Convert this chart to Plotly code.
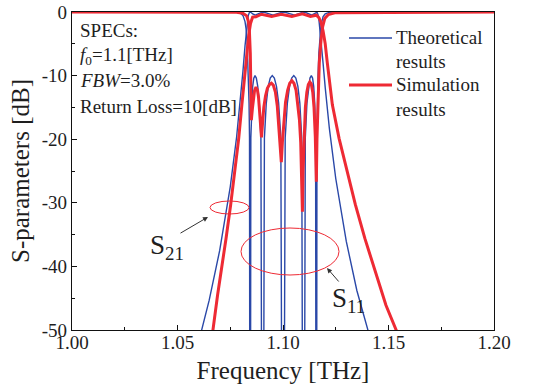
import plotly.graph_objects as go

# ---------------- data ----------------
# Theoretical results (blue)
theo_f = [1.000, 1.055, 1.060, 1.065, 1.070, 1.075, 1.078, 1.080, 1.081, 1.082, 1.0825, 1.083, 1.0835,
          1.08362, 1.08365, 1.08375, 1.08391, 1.08413, 1.08442, 1.08476, 1.08517, 1.08563, 1.08616,
          1.08673, 1.08736, 1.08804, 1.08876, 1.08953, 1.09034, 1.09119, 1.09208, 1.09300, 1.09394,
          1.09491, 1.09590, 1.09691, 1.09793, 1.09897, 1.10000, 1.10104, 1.10207, 1.10310, 1.10411,
          1.10511, 1.10609, 1.10705, 1.10798, 1.10888, 1.10974, 1.11057, 1.11135, 1.11209, 1.11278,
          1.11343, 1.11402, 1.11455, 1.11503, 1.11545, 1.11580, 1.11610, 1.11632, 1.11649, 1.11659,
          1.11662, 1.117, 1.118, 1.119, 1.120, 1.122, 1.125, 1.130, 1.135, 1.140, 1.145, 1.200]
theo_s21 = [-95.0, -57.6, -51.9, -45.35, -37.49, -27.49, -19.69, -13.17, -9.37, -5.32, -3.38, -1.755, -0.64,
            -0.458, -0.416, -0.305, -0.164, -0.046, 0.0, -0.046, -0.164, -0.305, -0.416,
            -0.458, -0.416, -0.305, -0.164, -0.046, 0.0, -0.046, -0.164, -0.305, -0.416,
            -0.458, -0.416, -0.305, -0.164, -0.046, 0.0, -0.046, -0.164, -0.305, -0.416,
            -0.458, -0.416, -0.305, -0.164, -0.046, 0.0, -0.046, -0.164, -0.305, -0.416,
            -0.458, -0.416, -0.305, -0.164, -0.046, 0.0, -0.046, -0.164, -0.305, -0.416,
            -0.458, -1.11, -4.17, -8.08, -11.86, -18.39, -26.18, -36.07, -43.79, -50.17, -55.65, -91.0]
theo_s11 = [0.0, 0.0, 0.0, 0.0, 0.0, -0.008, -0.047, -0.215, -0.53, -1.51, -2.67, -4.785, -8.63,
            -10.0, -10.39, -11.69, -14.32, -19.79, -120.0, -19.79, -14.32, -11.69, -10.39,
            -10.0, -10.39, -11.69, -14.32, -19.79, -120.0, -19.79, -14.32, -11.69, -10.39,
            -10.0, -10.39, -11.69, -14.32, -19.79, -120.0, -19.79, -14.32, -11.69, -10.39,
            -10.0, -10.39, -11.69, -14.32, -19.79, -120.0, -19.79, -14.32, -11.69, -10.39,
            -10.0, -10.39, -11.69, -14.32, -19.79, -120.0, -19.79, -14.32, -11.69, -10.39,
            -10.0, -6.47, -2.09, -0.73, -0.29, -0.06, -0.01, 0.0, 0.0, 0.0, 0.0, 0.0]

# Simulation results (red)
sim_s21_f = [1.000, 1.055, 1.060, 1.0668, 1.0690, 1.0708, 1.0730, 1.0752, 1.0772, 1.0790, 1.0805, 1.0820,
             1.0830, 1.0838, 1.0846, 1.0856, 1.0872, 1.0898, 1.0946, 1.0992, 1.1042, 1.1092, 1.1130,
             1.1158, 1.1170, 1.1180, 1.1190, 1.1200, 1.1210, 1.1222, 1.1234, 1.1266, 1.1303, 1.1343,
             1.1388, 1.1437, 1.1488, 1.1540, 1.1585, 1.200]
sim_s21_db = [-90.0, -60.0, -56.0, -50.0, -44.5, -40.8, -35.6, -30.3, -25.1, -19.9, -14.6, -9.4,
              -6.0, -3.5, -1.8, -0.8, -0.75, -0.35, -0.7, -0.35, -0.7, -0.3, -0.7,
              -0.5, -0.9, -1.6, -3.0, -5.0, -8.0, -11.4, -14.6, -19.9, -25.1, -30.3,
              -35.6, -40.8, -46.1, -50.3, -53.0, -85.0]

sim_s11_f = [1.000, 1.078, 1.081, 1.0828, 1.0836, 1.0841, 1.0845, 1.0848, 1.0850,
             1.0855, 1.0860, 1.0865, 1.0872, 1.0879, 1.0884, 1.0889, 1.0894, 1.0898,
             1.0903, 1.0909, 1.0917, 1.0926, 1.0936, 1.0945, 1.0954, 1.0964, 1.0973, 1.0981, 1.0987, 1.0992,
             1.0997, 1.1004, 1.1012, 1.1022, 1.1032, 1.1042, 1.1052, 1.1062, 1.1071, 1.1078, 1.1084, 1.1088, 1.1092,
             1.1095, 1.1100, 1.1106, 1.1113, 1.1120, 1.1127, 1.1134, 1.1141, 1.1147, 1.1153, 1.1156, 1.1158,
             1.1161, 1.1166, 1.1172, 1.1180, 1.1188, 1.1198, 1.1215, 1.1250, 1.200]
sim_s11_db = [0.0, -0.05, -0.2, -0.6, -1.5, -3.2, -6.5, -11.0, -17.0,
              -15.2, -13.4, -12.4, -11.8, -12.3, -13.4, -15.5, -18.0, -19.7,
              -17.5, -15.0, -13.2, -12.0, -11.4, -11.2, -11.5, -12.6, -14.8, -18.0, -20.8, -23.6,
              -20.5, -16.8, -14.2, -12.3, -11.2, -10.8, -11.2, -12.3, -14.5, -17.0, -20.5, -24.5, -31.4,
              -25.0, -19.5, -15.0, -12.6, -11.4, -11.0, -11.3, -12.6, -15.0, -19.5, -23.0, -26.7,
              -20.0, -13.0, -8.0, -4.5, -2.3, -1.0, -0.4, -0.1, 0.0]

x_ticks = [1.00, 1.05, 1.10, 1.15, 1.20]
x_ticktext = ["1.00", "1.05", "1.10", "1.15", "1.20"]
y_ticks = [0, -10, -20, -30, -40, -50]
y_ticktext = ["0", "-10", "-20", "-30", "-40", "-50"]

legend_names = ["Theoretical", "Simulation"]
spec_lines = ["SPECs:", "<i>f</i><sub>0</sub>=1.1[THz]", "<i>FBW</i>=3.0%", "Return Loss=10[dB]"]

# ---------------- figure ----------------
BLUE = "#2a48a8"
RED = "#ee2a34"
FONT = "Liberation Serif, Times New Roman, serif"
TXT = "#1e1e1e"

W, H = 536, 388
L, R, T, B = 72, 42, 12, 58
PX0, PX1, PY0, PY1 = L, W - R, T, H - B   # plot area in pixels


def px(x):
    return (x - PX0) / (PX1 - PX0)


def py(y):
    return (PY1 - y) / (PY1 - PY0)


fig = go.Figure()
fig.add_trace(go.Scatter(x=theo_f, y=theo_s21, mode="lines", line=dict(color=BLUE, width=1.4),
                         showlegend=False))
fig.add_trace(go.Scatter(x=theo_f, y=theo_s11, mode="lines", line=dict(color=BLUE, width=1.4),
                         showlegend=False))
fig.add_trace(go.Scatter(x=sim_s21_f, y=sim_s21_db, mode="lines", line=dict(color=RED, width=3),
                         showlegend=False))
fig.add_trace(go.Scatter(x=sim_s11_f, y=sim_s11_db, mode="lines", line=dict(color=RED, width=3),
                         showlegend=False))

axis_common = dict(showgrid=False, zeroline=False, showline=True, mirror=True, automargin=False,
                   linecolor="#111", linewidth=1.3, ticks="inside", tickcolor="#111",
                   ticklen=5, tickwidth=1.2,
                   tickfont=dict(family=FONT, size=19, color=TXT))

fig.update_xaxes(range=[1.0, 1.2], tickvals=x_ticks, ticktext=x_ticktext, ticklabelstandoff=-5,
                 minor=dict(dtick=0.025, ticks="inside", ticklen=3, tickcolor="#111"),
                 title=dict(text="Frequency [THz]", font=dict(family=FONT, size=25, color=TXT), standoff=9),
                 **axis_common)
fig.update_yaxes(range=[-50, 0], tickvals=y_ticks, ticktext=y_ticktext,
                 minor=dict(dtick=5, ticks="inside", ticklen=3, tickcolor="#111"),
                 title=dict(text="S-parameters [dB]", font=dict(family=FONT, size=25, color=TXT), standoff=4),
                 **axis_common)

shapes = []
annotations = []

# legend (manual)
leg_rows = [(38, BLUE, 1.4, legend_names[0]), (85, RED, 3, legend_names[1])]
for yrow, col, lw, name in leg_rows:
    shapes.append(dict(type="line", xref="paper", yref="paper", x0=px(349), x1=px(392),
                       y0=py(yrow), y1=py(yrow), line=dict(color=col, width=lw)))
    annotations.append(dict(xref="paper", yref="paper", x=px(394), y=py(yrow), text=name,
                            xanchor="left", yanchor="middle", showarrow=False,
                            font=dict(family=FONT, size=19, color=TXT)))
    annotations.append(dict(xref="paper", yref="paper", x=px(394), y=py(yrow + 24), text="results",
                            xanchor="left", yanchor="middle", showarrow=False,
                            font=dict(family=FONT, size=19, color=TXT)))

# specs text block
for i, line in enumerate(spec_lines):
    annotations.append(dict(xref="paper", yref="paper", x=px(78), y=py(31 + 25 * i), text=line,
                            xanchor="left", yanchor="middle", showarrow=False,
                            font=dict(family=FONT, size=19, color=TXT)))

# ellipses
shapes.append(dict(type="circle", xref="paper", yref="paper", x0=px(210), x1=px(249),
                   y0=py(214), y1=py(201), line=dict(color=RED, width=1)))
shapes.append(dict(type="circle", xref="paper", yref="paper", x0=px(241), x1=px(339),
                   y0=py(275), y1=py(228), line=dict(color=RED, width=1)))

# labels
annotations.append(dict(xref="paper", yref="paper", x=px(148), y=py(247), text="S<sub>21</sub>",
                        xanchor="left", yanchor="middle", showarrow=False,
                        font=dict(family=FONT, size=27, color=TXT)))
annotations.append(dict(xref="paper", yref="paper", x=px(330), y=py(300), text="S<sub>11</sub>",
                        xanchor="left", yanchor="middle", showarrow=False,
                        font=dict(family=FONT, size=27, color=TXT)))

# arrows
annotations.append(dict(xref="paper", yref="paper", x=px(208), y=py(217), ax=-29, ay=17,
                        text="", showarrow=True, arrowhead=2, arrowsize=1, arrowwidth=1,
                        arrowcolor="#333"))
annotations.append(dict(xref="paper", yref="paper", x=px(327), y=py(268), ax=13, ay=15,
                        text="", showarrow=True, arrowhead=2, arrowsize=1, arrowwidth=1,
                        arrowcolor="#333"))

fig.update_layout(width=W, height=H, margin=dict(l=L, r=R, t=T, b=B),
                  paper_bgcolor="white", plot_bgcolor="white",
                  shapes=shapes, annotations=annotations, showlegend=False)

fig.write_html("out.html", config={"displayModeBar": False},
               post_script="document.body.style.margin='0';")
